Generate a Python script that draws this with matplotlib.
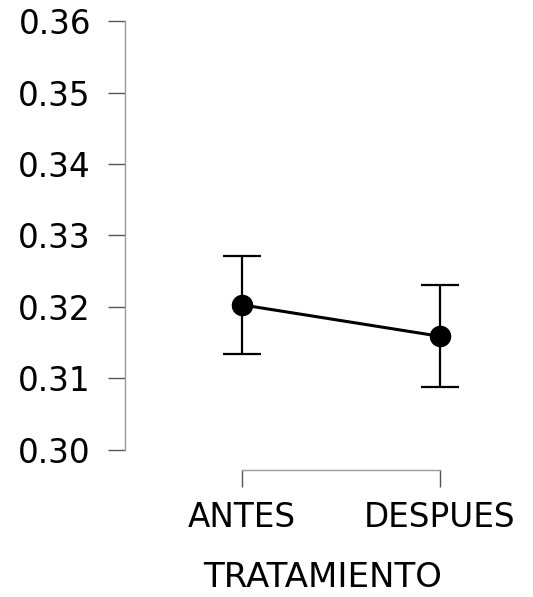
import matplotlib
matplotlib.use("Agg")
import matplotlib.pyplot as plt

# datos
categorias = ["ANTES", "DESPUES"]
medias = [0.3203, 0.3159]
ci_inf = [0.3134, 0.3088]
ci_sup = [0.3272, 0.3231]

y_ticks = [0.30, 0.31, 0.32, 0.33, 0.34, 0.35, 0.36]

W, H = 533, 597
fig = plt.figure(figsize=(W / 100, H / 100), dpi=100)

# ejes en pixeles: spine izq en x=125, y de 21 a 450
left_px, right_px = 125, 520
ax = fig.add_axes([left_px / W, 1 - 450 / H, (right_px - left_px) / W, (450 - 21) / H])

x = list(range(len(categorias)))
err = [[m - lo for m, lo in zip(medias, ci_inf)],
       [hi - m for m, hi in zip(medias, ci_sup)]]

ax.errorbar(x, medias, yerr=err, fmt="none", ecolor="black",
            elinewidth=1.6, capsize=14, capthick=1.6, zorder=2)
ax.plot(x, medias, color="black", linewidth=2.2, marker="o",
        markersize=14.5, zorder=3)

# 0 -> px 242, 1 -> px 440
ppu = 198.0
ax.set_xlim(-(242 - left_px) / ppu, (right_px - 242) / ppu)
ax.set_ylim(0.30, 0.36)

ax.set_yticks(y_ticks)
ax.set_yticklabels([f"{v:.2f}" for v in y_ticks])
ax.set_xticks(x)
ax.set_xticklabels(categorias)

for s in ["top", "right"]:
    ax.spines[s].set_visible(False)
ax.spines["left"].set_bounds(0.30, 0.36)
ax.spines["bottom"].set_bounds(0, 1)
ax.spines["bottom"].set_position(("outward", 14.5))
for s in ["left", "bottom"]:
    ax.spines[s].set_color("#9a9a9a")
    ax.spines[s].set_linewidth(1.0)

ax.tick_params(axis="both", length=12.5, width=1.0, color="#555555",
               labelsize=23.5, labelcolor="black")
ax.tick_params(axis="y", pad=12)
ax.tick_params(axis="x", pad=9.5)

ax.set_xlabel("TRATAMIENTO", fontsize=24.5, labelpad=20)
ax.patch.set_visible(False)

fig.savefig("out.png", dpi=100)
